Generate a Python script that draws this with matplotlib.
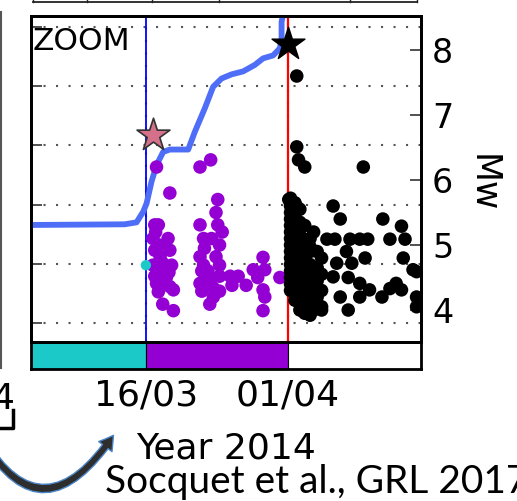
import numpy as np
import matplotlib
matplotlib.use("Agg")
import matplotlib.pyplot as plt
import matplotlib.dates as mdates
from matplotlib.lines import Line2D
from matplotlib.patches import FancyArrowPatch

# ---------------------------------------------------------------------------
# Data (days counted from 2014-03-01 00:00)
# ---------------------------------------------------------------------------
T0 = np.datetime64("2014-03-01T00:00")

X_START, X_END = 2.0, 46.0          # 03/03 .. 16/04
PHASE_EDGES = [2.0, 15.0, 31.0, 46.0]
PHASE_COLORS = ["#1bc9c9", "#9400d3", "white"]
TICK_DAYS = [15.0, 31.0]            # 16/03, 01/04

# cumulative moment curve (left axis, arbitrary units)
cum_day = [1.5, 12.6, 13.95, 14.7, 15.08, 15.64, 16.21, 16.95, 17.7, 19.77,
           20.52, 21.65, 22.58, 23.53, 24.66, 25.96, 27.28, 28.21, 29.34,
           30.1, 30.29, 30.29, 30.47, 30.6]
cum_val = [2.655, 2.667, 2.70, 2.88, 3.02, 3.39, 3.67, 3.89, 3.93, 3.93,
           4.23, 4.63, 4.99, 5.13, 5.20, 5.25, 5.36, 5.47, 5.52,
           5.64, 5.81, 6.09, 6.20, 6.45]

# pre-sequence event
cyan_day = [15.0]
cyan_mw = [4.69]

# foreshock sequence
purple_day = [16.2, 21.1, 22.3, 17.7, 23.1, 22.9, 16.0, 16.4, 21.1, 23.1,
              23.6, 17.5, 15.8, 21.5, 22.4, 23.3, 16.0, 17.7, 16.6, 21.1,
              22.9, 28.2, 17.9, 15.8, 21.5, 23.3, 27.1, 28.4, 16.6, 21.8,
              23.3, 24.5, 25.4, 30.1, 16.0, 17.3, 27.6, 21.1, 24.7, 26.3,
              16.2, 17.7, 22.6, 28.2, 18.1, 21.3, 23.3, 28.4, 22.6, 16.9,
              22.2, 18.1, 28.2, 16.1, 16.5, 16.9, 16.3, 17.0, 16.4, 17.6,
              21.6, 22.0, 22.2, 21.3]
purple_mw = [6.20, 6.20, 6.31, 5.80, 5.70, 5.50, 5.31, 5.31, 5.31, 5.31,
             5.20, 5.10, 5.10, 5.10, 5.10, 5.00, 4.92, 4.92, 4.82, 4.82,
             4.82, 4.81, 4.69, 4.69, 4.69, 4.69, 4.62, 4.62, 4.60, 4.54,
             4.52, 4.52, 4.52, 4.50, 4.52, 4.50, 4.50, 4.41, 4.38, 4.38,
             4.41, 4.36, 4.34, 4.31, 4.31, 4.29, 4.29, 4.20, 4.20, 4.09,
             4.09, 3.99, 3.99, 5.20, 5.00, 4.72, 4.62, 4.45, 4.28, 4.58,
             4.95, 4.60, 4.45, 4.60]

# aftershocks
black_day = [32.0, 32.0, 32.2, 32.9, 39.5, 31.1, 32.0, 36.1, 36.9, 41.7,
             43.8, 33.9, 35.4, 36.3, 38.0, 39.1, 40.0, 42.5, 44.2, 33.5,
             37.6, 39.7, 44.0, 36.5, 38.2, 45.1, 32.4, 33.9, 36.1, 37.8,
             39.1, 43.2, 40.2, 42.5, 43.8, 41.6, 39.1, 36.9, 45.5, 33.9,
             45.5, 33.9, 37.8, 33.5, 34.8, 45.5,
             31.3, 31.3, 31.3, 31.3, 31.3, 31.3, 31.3, 31.3, 31.3, 31.3,
             31.3, 31.3, 31.3, 31.3, 31.3,
             31.8, 31.8, 31.8, 31.8, 31.8, 31.8, 31.8, 31.8, 31.8,
             32.35, 32.35, 32.35, 32.35, 32.35, 32.35, 32.35, 32.35, 32.35,
             32.9, 32.9, 32.9, 32.9, 32.9, 32.9, 32.9,
             33.5, 33.5, 33.5, 33.5, 33.5, 33.5,
             34.3, 34.3, 34.3, 34.3,
             34.8, 34.8, 34.8, 34.8]
black_mw = [7.60, 6.51, 6.31, 6.20, 6.20, 5.70, 5.59, 5.60, 5.40, 5.40,
            5.29, 5.20, 5.09, 5.09, 5.09, 5.09, 5.09, 5.09, 5.09, 4.97,
            4.90, 4.80, 4.80, 4.72, 4.72, 4.62, 4.62, 4.56, 4.51, 4.50,
            4.41, 4.41, 4.31, 4.33, 4.31, 4.20, 4.20, 4.20, 4.20, 4.15,
            4.05, 4.00, 4.00, 3.92, 4.00, 4.59,
            5.72, 5.60, 5.50, 5.40, 5.30, 5.20, 5.10, 5.00, 4.90, 4.80,
            4.70, 4.60, 4.50, 4.40, 4.30,
            5.65, 5.45, 5.25, 5.05, 4.85, 4.65, 4.45, 4.25, 4.15,
            5.55, 5.35, 5.15, 4.95, 4.75, 4.55, 4.35, 4.10, 4.00,
            5.30, 5.00, 4.80, 4.60, 4.40, 4.20, 3.95,
            5.10, 4.90, 4.70, 4.50, 4.30, 4.05,
            4.90, 4.65, 4.45, 4.20,
            4.80, 4.55, 4.30, 4.05]

# largest foreshock and mainshock
fore_day, fore_mw = 15.8, 6.7
main_day, main_mw = 31.0, 8.1


def to_dates(days):
    return T0 + (np.asarray(days, dtype=float) * 86400).astype("timedelta64[s]")


# ---------------------------------------------------------------------------
# Figure layout (pixel based, 517 x 501)
# ---------------------------------------------------------------------------
W, H = 517, 501


def fx(px):
    return px / W


def fy(py):
    return 1 - py / H


fig = plt.figure(figsize=(W / 100, H / 100), dpi=100)

L, R = 30.5, 421.0
ax = fig.add_axes([fx(L), fy(342), fx(R) - fx(L), fy(15.5) - fy(342)])
axc = fig.add_axes([fx(L), fy(368.5), fx(R) - fx(L), fy(342) - fy(368.5)], sharex=ax)

dotted = (0, (1, 5))

# left axis: cumulative curve + grid
ax.plot(to_dates(cum_day), cum_val, color="#4f6ef7", lw=4.2, zorder=3,
        solid_capstyle="round")
ax.axvline(to_dates([TICK_DAYS[0]])[0], color="blue", lw=1.3, zorder=2)
ax.axvline(to_dates([TICK_DAYS[1]])[0], color="red", lw=1.6, zorder=2)
ax.set_xlim(to_dates([X_START])[0], to_dates([X_END])[0])
ax.set_ylim(0.679, 6.194)
ax.set_yticks([1, 2, 3, 4, 5, 6])
ax.set_xticks(to_dates(TICK_DAYS))
ax.grid(True, color="#555555", ls=dotted, lw=1.5, zorder=2.5)
ax.tick_params(axis="y", direction="in", length=8, width=1.2, color="#333333",
               labelleft=False)
ax.tick_params(axis="x", length=0, labelbottom=False)
for s in ax.spines.values():
    s.set_linewidth(2)

ax.text(fx(33), fy(50), "ZOOM", transform=fig.transFigure, fontsize=22.5,
        va="baseline", ha="left")

# right axis: magnitudes
ax2 = ax.twinx()
ax2.set_ylim(3.508, 8.531)
ax2.set_yticks([4, 5, 6, 7, 8])
ax2.tick_params(axis="y", direction="in", length=8, width=1.2, color="#333333",
                labelsize=24, pad=8)
ax2.scatter(to_dates(purple_day), purple_mw, s=95, color="#9400d3",
            edgecolors="none", zorder=4)
ax2.scatter(to_dates(black_day), black_mw, s=95, color="black",
            edgecolors="none", zorder=4)
ax2.scatter(to_dates(cyan_day), cyan_mw, s=55, color="#1bc9c9",
            edgecolors="none", zorder=5)
ax2.scatter(to_dates([fore_day]), [fore_mw], marker="*", s=620,
            color="#d4708a", edgecolors="#333333", linewidths=1.2, zorder=6)
ax2.scatter(to_dates([main_day]), [main_mw], marker="*", s=620,
            color="black", edgecolors="black", zorder=6)
ax2.set_ylabel("Mw", rotation=270, fontsize=25, ha="center", va="center")
ax2.yaxis.set_label_coords((483 - L) / (R - L), (342 - 183) / (342 - 15.5))
for s in ax2.spines.values():
    s.set_linewidth(2)

# phase bar under the panel
for (a, b), c in zip(zip(PHASE_EDGES[:-1], PHASE_EDGES[1:]), PHASE_COLORS):
    axc.axvspan(to_dates([a])[0], to_dates([b])[0], color=c, ec="black", lw=0.8)
axc.set_yticks([])
axc.xaxis.set_major_formatter(mdates.DateFormatter("%d/%m"))
axc.tick_params(axis="x", length=0, labelsize=26, pad=7)
axc.set_xlabel("Year 2014", fontsize=26, labelpad=14)
for s in axc.spines.values():
    s.set_linewidth(2)

# edges of neighbouring panels
fig.add_artist(Line2D([fx(33), fx(417)], [fy(1.5), fy(1.5)], color="#222222",
                      lw=1.3, transform=fig.transFigure))
for px in [33, 87, 152, 219, 350, 417]:
    fig.add_artist(Line2D([fx(px), fx(px)], [fy(-2), fy(1.5)], color="#222222",
                          lw=1, transform=fig.transFigure))
fig.add_artist(Line2D([fx(1.2), fx(1.2)], [fy(12), fy(368)], color="#555555",
                      lw=1.5, transform=fig.transFigure))
fig.text(fx(-9), fy(409), "4", fontsize=26, va="baseline", ha="left")
fig.add_artist(Line2D([fx(13), fx(13), fx(-2)], [fy(410), fy(428), fy(428)],
                      color="black", lw=2.5, transform=fig.transFigure))

# curved arrow and reference
arrow = FancyArrowPatch((fx(-25), fy(425)), (fx(115), fy(433)),
                        transform=fig.transFigure,
                        connectionstyle="arc3,rad=0.85",
                        arrowstyle="simple,head_length=0.5,head_width=0.6,tail_width=0.25",
                        mutation_scale=20, facecolor="#2e2e2e",
                        edgecolor="#4a86c8", lw=1.0)
fig.add_artist(arrow)
fig.text(fx(105), fy(493), "Socquet et al., GRL 2017", fontsize=28,
         family=["Lato", "DejaVu Sans"], va="baseline", ha="left")

fig.savefig("out.png", dpi=100)
